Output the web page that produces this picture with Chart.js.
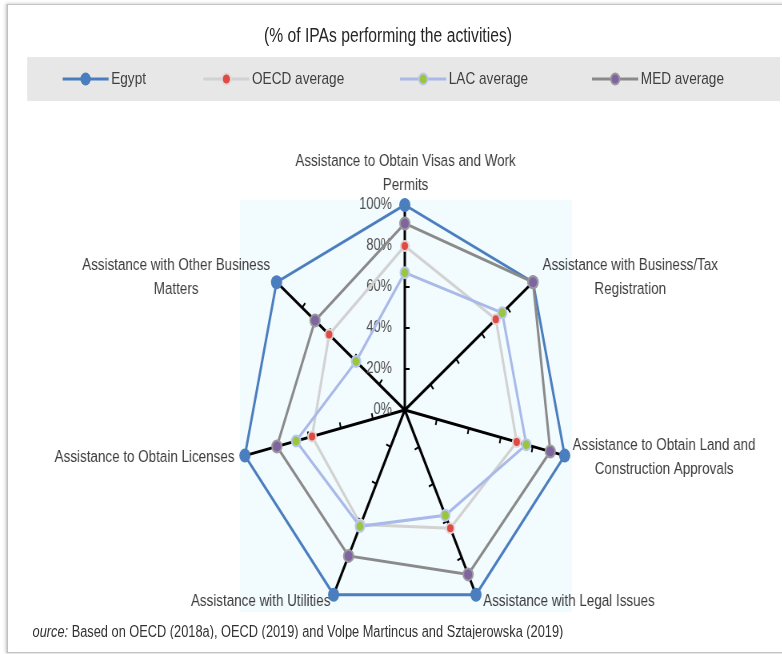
<!DOCTYPE html>
<html>
<head>
<meta charset="utf-8">
<script src="https://cdn.jsdelivr.net/npm/chart.js@4.4.1/dist/chart.umd.min.js"></script>
<style>
  html, body { margin: 0; padding: 0; width: 782px; height: 654px; overflow: hidden; background: #fff; }
  #wrap { position: absolute; left: 0; top: 0; width: 977px; height: 654px; transform: scaleX(0.8); transform-origin: 0 0;
          font-family: "Liberation Sans", Arial, sans-serif; color: #333; }
  #card { position: absolute; left: 8px; top: 4px; width: 990px; height: 647px; border: 1px solid #c4c4c4; border-left: 2px solid #c0c0c0;
          box-shadow: 0 0 4px rgba(0,0,0,0.25); background: #fff; }
  #title { position: absolute; left: 0; width: 970px; top: 23px; text-align: center; font-size: 19.6px; color: #262626; line-height: 24px; }
  #legend { position: absolute; left: 34px; top: 57px; width: 941px; height: 44px; background: #e7e7e7; }
  .li { position: absolute; top: 0; height: 44px; display: flex; align-items: center; font-size: 17px; color: #404040; }
  .li svg { margin-right: 3px; }
  canvas { position: absolute; left: 0; top: 0; }
  #src { position: absolute; left: 41px; top: 621px; height: 18px; width: 900px; overflow: hidden; font-size: 16px; color: #333; white-space: nowrap; line-height: 22px; }
  #src span.in { margin-left: -11px; }
</style>
</head>
<body>
<div id="wrap">
  <div id="card"></div>
  <div id="title">(% of IPAs performing the activities)</div>
  <div id="legend"></div>
  <canvas id="c" width="977" height="654" style="width:977px;height:654px"></canvas>
  <div id="src"><span class="in"><i>Source:</i> Based on OECD (2018a), OECD (2019) and Volpe Martincus and Sztajerowska (2019)</span></div>
</div>
<script>
// ---- data ----
const categories = [
  ["Assistance to Obtain Visas and Work", "Permits"],
  ["Assistance with Business/Tax", "Registration"],
  ["Assistance to Obtain Land and", "Construction Approvals"],
  ["Assistance with Legal Issues"],
  ["Assistance with Utilities"],
  ["Assistance to Obtain Licenses"],
  ["Assistance with Other Business", "Matters"]
];
const seriesNames = ["Egypt", "OECD average", "LAC average", "MED average"];
const egypt = [100, 100, 100, 100, 100, 100, 100];
const oecd  = [80, 71, 70, 64, 62, 58, 59];
const lac   = [67, 76, 76, 57, 63, 68, 38];
const med   = [91, 100, 91, 89, 79, 80, 70];
const tickValues = [0, 20, 40, 60, 80, 100];
const tickLabels = ["0%", "20%", "40%", "60%", "80%", "100%"];

// ---- styles ----
const styles = [
  { line: '#4a7ebf', fill: '#4a7ebf', border: '#4a7ebf', r: 7, bw: 0, order: 4 },
  { line: '#d2d2d2', fill: '#de4b45', border: '#e6d3d3', r: 5, bw: 2, order: 3 },
  { line: '#a9b9ea', fill: '#9cc53f', border: '#b9c7f0', r: 5.5, bw: 2, order: 2 },
  { line: '#8a8a8a', fill: '#8064a2', border: '#9a9a9a', r: 6, bw: 2, order: 1 }
];
const values = [egypt, oecd, lac, med];

// ---- legend (html) ----
const legendPos = [44, 220, 466, 706];
const legend = document.getElementById('legend');
seriesNames.forEach((name, i) => {
  const s = styles[i];
  const d = document.createElement('div');
  d.className = 'li';
  d.style.left = legendPos[i] + 'px';
  d.innerHTML = `<svg width="58" height="16"><line x1="0" y1="8" x2="58" y2="8" stroke="${s.line}" stroke-width="3"/>` +
    `<circle cx="29" cy="8" r="${i === 0 ? 6.5 : 5.5}" fill="${s.fill}" stroke="${s.border}" stroke-width="${i === 0 ? 0 : 2}"/></svg>` +
    `<span>${name}</span>`;
  legend.appendChild(d);
});

// ---- label layout (inner px, relative to 100% point) ----
const LABEL_LAYOUT = [
  { align: 'center', dx: 1, dy: -32 },
  { align: 'left', dx: 12, dy: -5 },
  { align: 'left', dx: 10, dy: 2 },
  { align: 'left', dx: 9, dy: 7 },
  { align: 'right', dx: -4, dy: 7 },
  { align: 'right', dx: -13, dy: 2 },
  { align: 'right', dx: -8, dy: -5 }
];
const FONT = '16.8px "Liberation Sans", Arial, sans-serif';

const decor = {
  id: 'decor',
  beforeDraw(chart) {
    const ctx = chart.ctx;
    ctx.save();
    ctx.fillStyle = '#f2fbfd';
    ctx.fillRect(300, 200, 415, 412);
    ctx.restore();
  },
  beforeDatasetsDraw(chart) {
    const r = chart.scales.r;
    const ctx = chart.ctx;
    const n = chart.data.labels.length;
    ctx.save();
    // tick marks on each spoke
    ctx.strokeStyle = '#000';
    ctx.lineWidth = 2;
    for (let i = 0; i < n; i++) {
      const end = r.getPointPositionForValue(i, r.max);
      const ux = (end.x - r.xCenter) / r.drawingArea, uy = (end.y - r.yCenter) / r.drawingArea;
      const px = -uy, py = ux;
      tickValues.forEach(v => {
        if (v <= r.min || v >= r.max) return;
        const p = r.getPointPositionForValue(i, v);
        ctx.beginPath();
        ctx.moveTo(p.x, p.y);
        ctx.lineTo(p.x + px * 6, p.y + py * 6);
        ctx.stroke();
      });
    }
    // tick labels
    ctx.font = '16px "Liberation Sans", Arial, sans-serif';
    ctx.fillStyle = '#505050';
    ctx.textAlign = 'right';
    ctx.textBaseline = 'middle';
    tickValues.forEach((v, k) => {
      const y = r.yCenter - r.getDistanceFromCenterForValue(v);
      ctx.fillText(tickLabels[k], r.xCenter - 16, y);
    });
    // point labels
    ctx.font = FONT;
    ctx.fillStyle = '#3c3c3c';
    ctx.textAlign = 'center';
    const lh = 24;
    chart.data.labels.forEach((lines, i) => {
      const p = r.getPointPositionForValue(i, r.max);
      const L = LABEL_LAYOUT[i];
      const w = Math.max(...lines.map(t => ctx.measureText(t).width));
      let cx;
      if (L.align === 'left') cx = p.x + L.dx + w / 2;
      else if (L.align === 'right') cx = p.x + L.dx - w / 2;
      else cx = p.x + L.dx;
      const cy = p.y + L.dy;
      const y0 = cy - (lines.length - 1) * lh / 2;
      lines.forEach((t, k) => ctx.fillText(t, cx, y0 + k * lh));
    });
    ctx.restore();
  }
};

new Chart(document.getElementById('c'), {
  type: 'radar',
  data: {
    labels: categories,
    datasets: values.map((v, i) => ({
      label: seriesNames[i],
      data: v,
      order: styles[i].order,
      borderColor: styles[i].line,
      borderWidth: 3,
      backgroundColor: 'transparent',
      fill: false,
      tension: 0,
      pointRadius: styles[i].r,
      pointBackgroundColor: styles[i].fill,
      pointBorderColor: styles[i].border,
      pointBorderWidth: styles[i].bw,
      pointHoverRadius: styles[i].r,
      clip: false
    }))
  },
  options: {
    responsive: false,
    animation: false,
    devicePixelRatio: 1,
    layout: { padding: { left: 301, right: 266, top: 205, bottom: 39 } },
    plugins: { legend: { display: false }, tooltip: { enabled: false }, title: { display: false } },
    scales: {
      r: {
        min: 0, max: 100,
        ticks: { display: false, stepSize: 20 },
        grid: { display: false },
        angleLines: { display: true, color: '#000000', lineWidth: 3 },
        pointLabels: { display: false }
      }
    }
  },
  plugins: [decor]
});
</script>
</body>
</html>
